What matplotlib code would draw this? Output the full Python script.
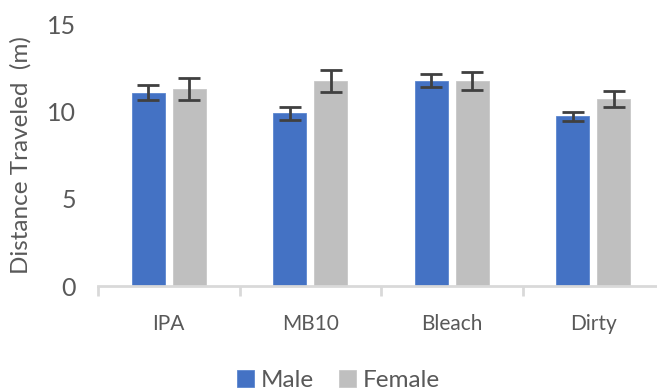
import matplotlib
matplotlib.use("Agg")
import matplotlib.pyplot as plt
import numpy as np

categories = ["IPA", "MB10", "Bleach", "Dirty"]
male = [11.07, 9.88, 11.75, 9.71]
female = [11.26, 11.75, 11.75, 10.72]
male_err = [0.43, 0.36, 0.36, 0.28]
female_err = [0.62, 0.62, 0.53, 0.45]
yticks = [0, 5, 10, 15]

plt.rcParams['font.family'] = ['Lato', 'DejaVu Sans']
txt = '#595959'

fig = plt.figure(figsize=(6.57, 3.91), dpi=100)
ax = fig.add_axes([98/657, 105/391, 566/657, 262/391])

x = np.arange(len(categories))
w = 0.233
off = 0.145
ekw = dict(ecolor='#404040', elinewidth=2, capsize=8, capthick=2)
ax.bar(x - off, male, w, color='#4472C4', edgecolor='#5B86D0', linewidth=0.6,
       yerr=male_err, error_kw=ekw, label='Male', zorder=2)
ax.bar(x + off, female, w, color='#BFBFBF', edgecolor='#C8C8C8', linewidth=0.6,
       yerr=female_err, error_kw=ekw, label='Female', zorder=2)

ax.set_xlim(-0.5, 3.5)
ax.set_ylim(0, 15)
ax.set_yticks(yticks)
ax.set_yticklabels([str(v) for v in yticks])
ax.tick_params(axis='y', length=0, pad=16, labelsize=18, labelcolor=txt)

ax.set_xticks(np.arange(-0.5, 4.0, 1.0))
ax.set_xticklabels([])
ax.set_xticks(x, minor=True)
ax.set_xticklabels(categories, minor=True)
ax.tick_params(axis='x', which='major', length=7, width=2, color='#D9D9D9', direction='out')
ax.tick_params(axis='x', which='minor', length=0, pad=20, labelsize=15, labelcolor=txt)

for s in ['top', 'right', 'left']:
    ax.spines[s].set_visible(False)
ax.spines['bottom'].set_color('#D9D9D9')
ax.spines['bottom'].set_linewidth(2)

ax.set_ylabel('Distance Traveled  (m)', fontsize=17.5, color=txt, labelpad=12)
ax.yaxis.set_label_coords(-0.118, 0.5)

fig.legend(loc='lower center', bbox_to_anchor=(0.515, -0.055), ncol=2, frameon=False,
           fontsize=17.5, labelcolor=txt, handlelength=0.7, handleheight=0.7,
           handletextpad=0.3, columnspacing=1.0)

fig.savefig('out.png', dpi=100)
